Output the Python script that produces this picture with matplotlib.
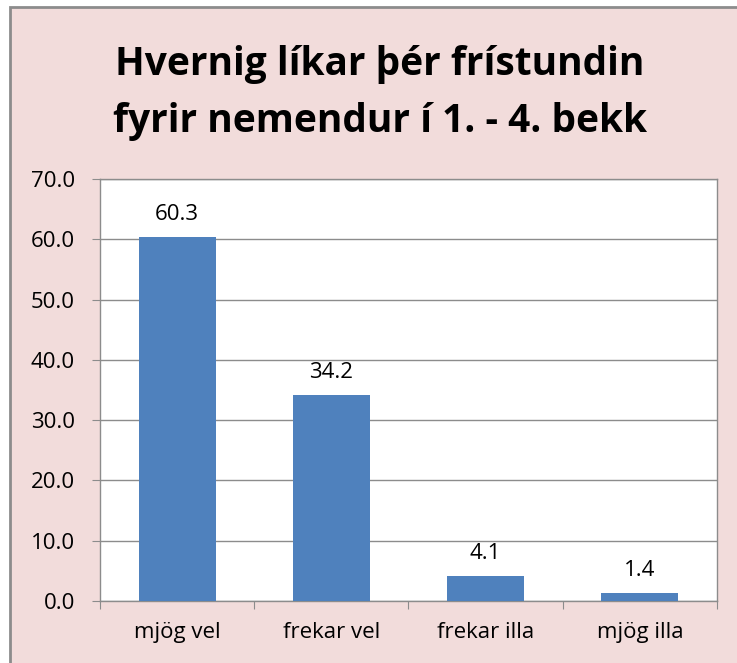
import matplotlib
matplotlib.use("Agg")
import matplotlib.pyplot as plt
from matplotlib.patches import Rectangle

categories = ["mjög vel", "frekar vel", "frekar illa", "mjög illa"]
values = [60.3, 34.2, 4.1, 1.4]
y_ticks = [0, 10, 20, 30, 40, 50, 60, 70]
title = "Hvernig líkar þér frístundin\nfyrir nemendur í 1. - 4. bekk"

W, H = 737, 663
fig = plt.figure(figsize=(W / 100, H / 100), dpi=100)
fig.patch.set_facecolor("white")

# pink chart area with grey frame (extends past right/bottom edges)
frame = Rectangle((10 / W, -0.05), 1.1, 1 - 7 / H + 0.05, transform=fig.transFigure,
                  facecolor="#F2DCDB", edgecolor="#8C8C8C", linewidth=2, zorder=-10)
fig.patches.append(frame)

ax = fig.add_axes([100 / W, 1 - 601 / H, (717 - 100) / W, (601 - 179) / H])
ax.set_facecolor("white")

fs = 16
x = list(range(len(categories)))
ax.bar(x, values, width=0.5, color="#4F81BD", zorder=3)
for xi, v in zip(x, values):
    ax.text(xi, v + 2.0, f"{v:.1f}", ha="center", va="bottom",
            fontsize=fs, family="Open Sans", color="black")

ax.set_xlim(-0.5, len(categories) - 0.5)
ax.set_ylim(0, 70)
ax.set_yticks(y_ticks)
ax.set_yticklabels([f"{t:.1f}" for t in y_ticks], fontsize=fs, family="Open Sans")
ax.yaxis.grid(True, color="#8C8C8C", linewidth=1, zorder=0)
ax.set_axisbelow(True)

ax.set_xticks([i - 0.5 for i in range(len(categories) + 1)])
ax.set_xticklabels([])
ax.set_xticks(x, minor=True)
ax.set_xticklabels(categories, minor=True, fontsize=fs, family="Open Sans")
ax.tick_params(axis="x", which="minor", length=0, pad=15)
ax.tick_params(axis="x", which="major", length=6, color="#8C8C8C", direction="out")
ax.tick_params(axis="y", length=6, color="#8C8C8C", direction="out", pad=12)

for s in ax.spines.values():
    s.set_color("#8C8C8C")
    s.set_linewidth(1)

fig.text(380 / W, 1 - 93 / H, title, ha="center", va="center", fontsize=28,
         fontweight="bold", family="Open Sans", linespacing=1.62)

fig.savefig("out.png", dpi=100, facecolor=fig.get_facecolor())
